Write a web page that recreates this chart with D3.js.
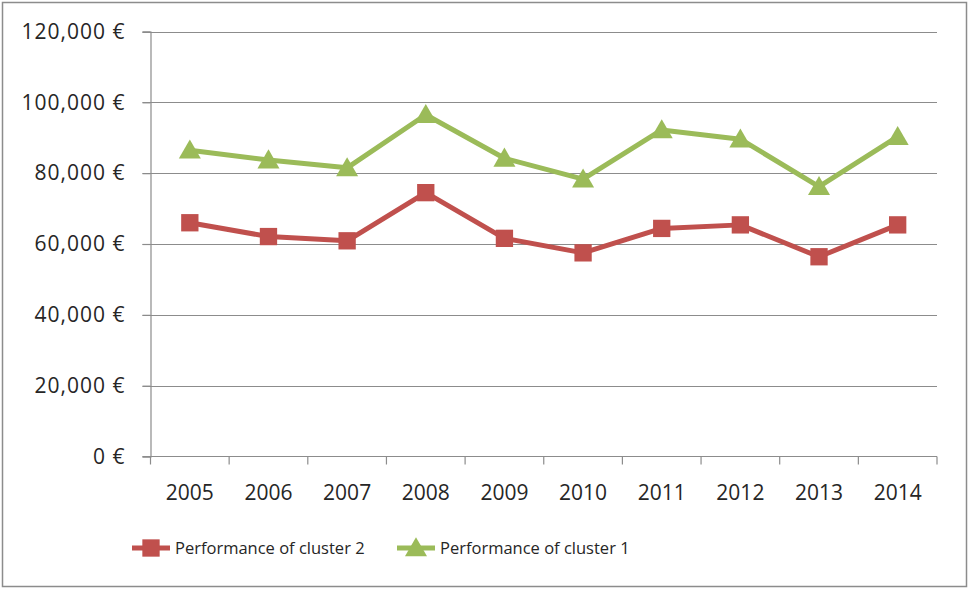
<!DOCTYPE html>
<html>
<head>
<meta charset="utf-8">
<script src="https://cdn.jsdelivr.net/npm/d3@7"></script>
<style>
  body { margin: 0; background: #fff; }
  text { font-family: "Open Sans", "Noto Sans", sans-serif; fill: #262626; }
</style>
</head>
<body>
<div id="chart"></div>
<script>
var years = ["2005", "2006", "2007", "2008", "2009", "2010", "2011", "2012", "2013", "2014"];
var cluster2 = [66000, 62100, 60900, 74500, 61600, 57500, 64400, 65400, 56400, 65400];
var cluster1 = [86500, 83700, 81500, 96500, 84200, 78300, 92200, 89600, 76200, 90300];
var yTicks = [0, 20000, 40000, 60000, 80000, 100000, 120000];
var seriesNames = ["Performance of cluster 2", "Performance of cluster 1"];
var seriesColors = ["#C0504D", "#9BBB59"];

var width = 968, height = 590;
var plotLeft = 150.5, plotRight = 937, plotTop = 31.5, plotBottom = 456.5;

var svg = d3.select("#chart").append("svg")
  .attr("width", width)
  .attr("height", height);

// outer frame
svg.append("rect")
  .attr("x", 2.5).attr("y", 2.5)
  .attr("width", 964).attr("height", 584)
  .attr("fill", "none")
  .attr("stroke", "#8c8c8c")
  .attr("stroke-width", 1.5);

var xScale = d3.scaleBand().domain(years).range([plotLeft, plotRight]);
var yScale = d3.scaleLinear().domain([0, 120000]).range([plotBottom, plotTop]);

var fmt = function(d) { return d3.format(",")(d) + " €"; };

// gridlines
svg.append("g")
  .selectAll("line")
  .data(yTicks.filter(function(d) { return d > 0; }))
  .enter().append("line")
    .attr("x1", plotLeft - 8).attr("x2", plotRight)
    .attr("y1", function(d) { return Math.round(yScale(d)) + 0.5; })
    .attr("y2", function(d) { return Math.round(yScale(d)) + 0.5; })
    .attr("stroke", "#8c8c8c")
    .attr("stroke-width", 1.2);

// y axis
var yAxis = svg.append("g")
  .attr("transform", "translate(" + plotLeft + ",0)")
  .call(d3.axisLeft(yScale).tickValues(yTicks).tickFormat(fmt).tickSize(8).tickPadding(17));
yAxis.selectAll("path, line").attr("stroke", "#8c8c8c").attr("stroke-width", 1.2);
yAxis.selectAll("text")
  .attr("font-size", "21px")
  .attr("letter-spacing", "1px")
  .attr("fill", "#262626");

// x axis: ticks at category boundaries
var xAxis = svg.append("g")
  .attr("transform", "translate(0," + plotBottom + ")");
xAxis.append("line")
  .attr("x1", plotLeft - 8).attr("x2", plotRight)
  .attr("stroke", "#8c8c8c").attr("stroke-width", 1.2);
xAxis.selectAll(".tk")
  .data(years.concat(["end"]))
  .enter().append("line")
    .attr("class", "tk")
    .attr("x1", function(d, i) { return i < years.length ? xScale(d) : plotRight; })
    .attr("x2", function(d, i) { return i < years.length ? xScale(d) : plotRight; })
    .attr("y1", 0).attr("y2", 8)
    .attr("stroke", "#8c8c8c").attr("stroke-width", 1.2);
xAxis.selectAll("text")
  .data(years)
  .enter().append("text")
    .attr("x", function(d) { return xScale(d) + xScale.bandwidth() / 2; })
    .attr("y", 43)
    .attr("text-anchor", "middle")
    .attr("font-size", "21px")
    .text(function(d) { return d; });

var line = d3.line()
  .x(function(d, i) { return xScale(years[i]) + xScale.bandwidth() / 2; })
  .y(function(d) { return yScale(d); });

var square = d3.symbol().type(d3.symbolSquare).size(300);
var triangle = d3.symbol().type(d3.symbolTriangle).size(210);

[cluster2, cluster1].forEach(function(data, k) {
  svg.append("path")
    .datum(data)
    .attr("d", line)
    .attr("fill", "none")
    .attr("stroke", seriesColors[k])
    .attr("stroke-width", 5)
    .attr("stroke-linejoin", "round");
  svg.append("g").selectAll("path")
    .data(data)
    .enter().append("path")
      .attr("d", k === 0 ? square : triangle)
      .attr("transform", function(d, i) {
        return "translate(" + (xScale(years[i]) + xScale.bandwidth() / 2) + "," + (yScale(d) + (k === 1 ? 2 : 0)) + ")";
      })
      .attr("fill", seriesColors[k]);
});

// legend
var legendX = [132, 397];
var legend = svg.append("g");
seriesNames.forEach(function(name, k) {
  var g = legend.append("g").attr("transform", "translate(" + legendX[k] + ",548)");
  g.append("line")
    .attr("x1", 0).attr("x2", 38)
    .attr("stroke", seriesColors[k]).attr("stroke-width", 5);
  g.append("path")
    .attr("d", k === 0 ? square : triangle)
    .attr("transform", "translate(19," + (k === 1 ? 2 : 0) + ")")
    .attr("fill", seriesColors[k]);
  g.append("text")
    .attr("x", 43).attr("y", 6)
    .attr("font-size", "16.5px")
    .text(name);
});
</script>
</body>
</html>
